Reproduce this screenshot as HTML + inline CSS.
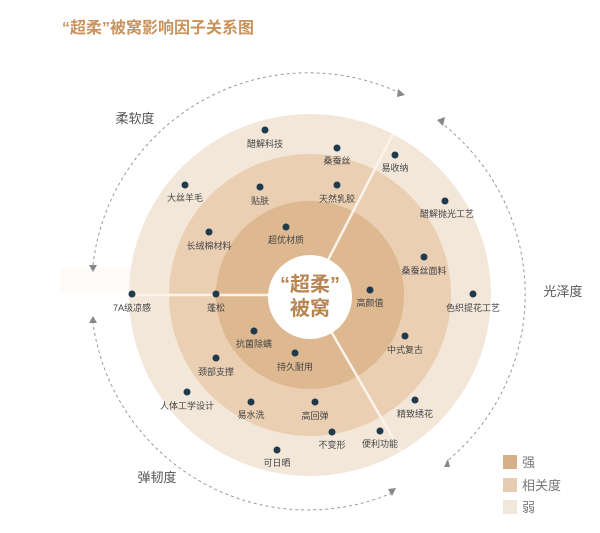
<!DOCTYPE html>
<html><head><meta charset="utf-8"><style>
html,body{margin:0;padding:0;background:#fff;}
svg{display:block;font-family:"Liberation Sans","Noto Sans CJK SC",sans-serif;}
</style></head><body>
<svg width="600" height="533" viewBox="0 0 600 533" xmlns="http://www.w3.org/2000/svg">
<rect width="600" height="533" fill="#fff"/>
<text x="62" y="33" font-size="16" font-weight="bold" fill="#c8925c">“超柔”被窝影响因子关系图</text>
<rect x="60" y="268" width="80" height="25" fill="#fdfaf7"/>
<circle cx="310" cy="295" r="181" fill="#f3e7da"/>
<circle cx="310" cy="295" r="141" fill="#eacfb3"/>
<circle cx="310" cy="295" r="94" fill="#ddb890"/>
<g stroke="#fbf3ea" stroke-width="2.5">
<line x1="310" y1="295" x2="129" y2="295"/>
<line x1="310" y1="295" x2="393" y2="134"/>
<line x1="310" y1="295" x2="401" y2="452"/>
</g>
<circle cx="310" cy="297" r="42" fill="#fff"/>
<text x="310" y="291" font-size="20" font-weight="bold" fill="#b98551" text-anchor="middle">“超柔”</text>
<text x="310" y="315" font-size="20" font-weight="bold" fill="#b98551" text-anchor="middle">被窝</text>
<g fill="none" stroke="#9a9a9a" stroke-width="1" stroke-dasharray="3,3">
<path d="M93 265 A217 217 0 0 1 400 93"/>
<path d="M440 122 A217 217 0 0 1 446 462"/>
<path d="M392 493 A217 217 0 0 1 93 323"/>
</g>
<g fill="#888">
<polygon points="89,265 97,265 93,272"/>
<polygon points="89,323 97,323 93,316"/>
<polygon points="398,89 405,95 397,97"/>
<polygon points="437,120 445,117 443,126"/>
<polygon points="444,467 448,459 450,467"/>
<polygon points="388,489 396,488 392,496"/>
</g>
<g font-size="13" fill="#555">
<text x="135" y="123" text-anchor="middle">柔软度</text>
<text x="563" y="296" text-anchor="middle">光泽度</text>
<text x="157" y="482" text-anchor="middle">弹韧度</text>
</g>
<g fill="#1f3a4d">
<circle cx="265" cy="130" r="3.5"/><circle cx="337" cy="148" r="3.5"/><circle cx="395" cy="155" r="3.5"/>
<circle cx="185" cy="185" r="3.5"/><circle cx="260" cy="187" r="3.5"/><circle cx="337" cy="185" r="3.5"/>
<circle cx="445" cy="201" r="3.5"/><circle cx="209" cy="232" r="3.5"/><circle cx="286" cy="227" r="3.5"/>
<circle cx="424" cy="257" r="3.5"/><circle cx="370" cy="290" r="3.5"/><circle cx="473" cy="294" r="3.5"/>
<circle cx="132" cy="294" r="3.5"/><circle cx="216" cy="294" r="3.5"/><circle cx="405" cy="336" r="3.5"/>
<circle cx="254" cy="331" r="3.5"/><circle cx="295" cy="353" r="3.5"/><circle cx="216" cy="358" r="3.5"/>
<circle cx="187" cy="392" r="3.5"/><circle cx="251" cy="402" r="3.5"/><circle cx="315" cy="402" r="3.5"/>
<circle cx="415" cy="400" r="3.5"/><circle cx="332" cy="432" r="3.5"/><circle cx="380" cy="431" r="3.5"/>
<circle cx="277" cy="450" r="3.5"/>
</g>
<g font-size="9" fill="#444" text-anchor="middle">
<text x="265" y="147">醋解科技</text><text x="337" y="164">桑蚕丝</text><text x="395" y="171">易收纳</text>
<text x="185" y="201">大丝羊毛</text><text x="260" y="204">贴肤</text><text x="337" y="202">天然乳胶</text>
<text x="447" y="217">醋解抛光工艺</text><text x="209" y="249">长绒棉材料</text><text x="286" y="243">超优材质</text>
<text x="424" y="274">桑蚕丝面料</text><text x="370" y="306">高颜值</text><text x="473" y="311">色织提花工艺</text>
<text x="132" y="311">7A级凉感</text><text x="216" y="311">蓬松</text><text x="405" y="353">中式复古</text>
<text x="254" y="347">抗菌除螨</text><text x="295" y="370">持久耐用</text><text x="216" y="375">颈部支撑</text>
<text x="187" y="409">人体工学设计</text><text x="251" y="418">易水洗</text><text x="315" y="419">高回弹</text>
<text x="415" y="417">精致绣花</text><text x="332" y="448">不变形</text><text x="380" y="447">便利功能</text>
<text x="277" y="466">可日晒</text>
</g>
<rect x="503" y="455" width="14" height="14" fill="#d7b08a"/>
<rect x="503" y="478" width="14" height="14" fill="#e6cdb2"/>
<rect x="503" y="500" width="14" height="14" fill="#f2e7dc"/>
<g font-size="13" fill="#777">
<text x="522" y="467">强</text><text x="522" y="490">相关度</text><text x="522" y="512">弱</text>
</g>
</svg>
</body></html>
